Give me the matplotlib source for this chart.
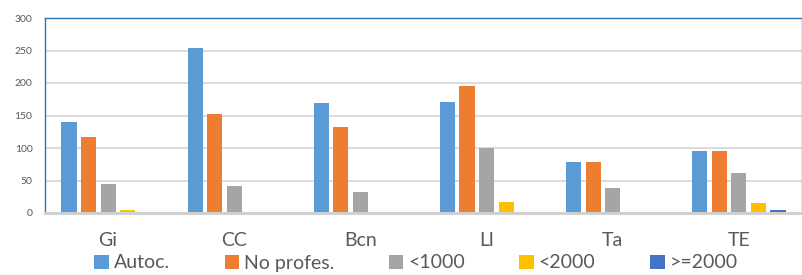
import numpy as np
import matplotlib.pyplot as plt
from matplotlib.patches import Patch

plt.rcParams['font.family'] = ['Lato', 'DejaVu Sans']

# Dades
categories = ["Gi", "CC", "Bcn", "Ll", "Ta", "TE"]
series_names = ["Autoc.", "No profes.", "<1000", "<2000", ">=2000"]
autoc = [140, 254, 169, 171, 78, 96]
no_profes = [117, 153, 132, 196, 78, 96]
menys_1000 = [45, 42, 33, 100, 38, 62]
menys_2000 = [5, 2, 0, 17, 0, 16]
mes_2000 = [0, 0, 0, 0, 0, 5]
colors = ["#5B9BD5", "#ED7D31", "#A5A5A5", "#FFC000", "#4472C4"]

series = [autoc, no_profes, menys_1000, menys_2000, mes_2000]

fig = plt.figure(figsize=(8.03, 2.75), dpi=100)
ax = fig.add_axes([45 / 803, 62 / 275, 757 / 803, 195 / 275])

x = np.arange(len(categories))
step = 0.155
for i, (vals, col) in enumerate(zip(series, colors)):
    ax.bar(x + (i - 2) * step, vals, width=0.12, color=col, zorder=3)

ax.set_xlim(-0.5, len(categories) - 0.5)
ax.set_ylim(0, 300)
ax.set_yticks(range(0, 301, 50))
ax.yaxis.grid(True, color="#D9D9D9", linewidth=1.3, zorder=0)
ax.set_axisbelow(True)

ax.set_xticks(x)
ax.set_xticklabels(categories, fontsize=14, color="#595959")
ax.tick_params(axis="x", length=0, pad=14)
ax.tick_params(axis="y", length=0, pad=9, labelsize=7.5, labelcolor="#595959")

for s in ["top", "left", "right"]:
    ax.spines[s].set_color("#2E75B6")
    ax.spines[s].set_linewidth(1.0)
ax.spines["bottom"].set_color("#D0D0D0")
ax.spines["bottom"].set_linewidth(2.2)
ax.spines["bottom"].set_zorder(4)

handles = [Patch(facecolor=c, edgecolor="none") for c in colors]
fig.legend(handles, series_names, loc="center", bbox_to_anchor=(416 / 803, 1 - 263 / 275),
           ncol=5, frameon=False, fontsize=14, handlelength=0.75, handleheight=0.75,
           handletextpad=0.25, columnspacing=2.8, labelcolor="#595959")

plt.savefig("out.png", dpi=100)
